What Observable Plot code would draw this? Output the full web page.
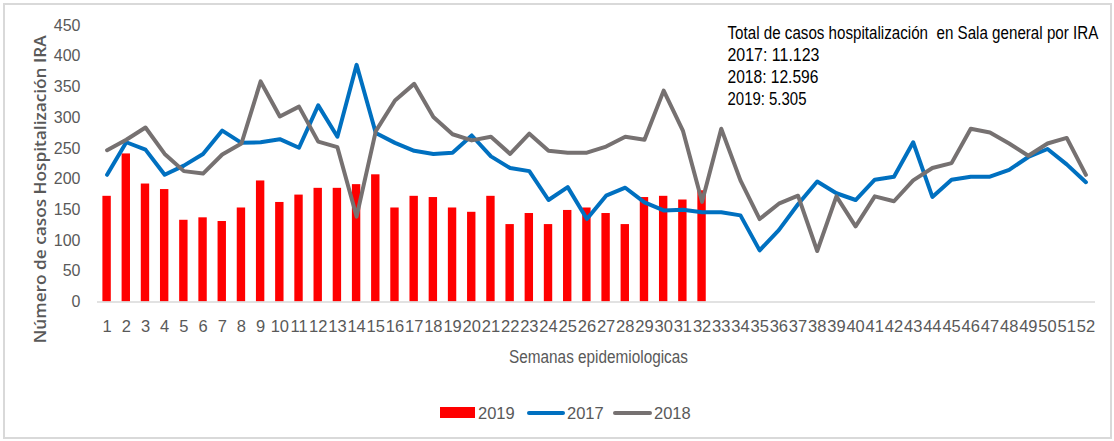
<!DOCTYPE html>
<html>
<head>
<meta charset="utf-8">
<script src="https://cdn.jsdelivr.net/npm/d3@7"></script>
<script src="https://cdn.jsdelivr.net/npm/@observablehq/plot@0.6"></script>
<style>
  html, body { margin: 0; padding: 0; background: #fff; }
  #wrap { position: relative; width: 1114px; height: 441px; overflow: hidden; }
  #frame { position: absolute; left: 3px; top: 3px; width: 1105px; height: 432px; border: 2px solid #d9d9d9; box-sizing: content-box; pointer-events: none; }
  #chart { position: absolute; left: 0; top: 0; }
  #legend { position: absolute; left: 0; top: 403px; width: 1114px; height: 20px; font-family: "Liberation Sans", Arial, sans-serif; font-size: 16.5px; color: #595959; }
  .item { position: absolute; top: 0; height: 20px; line-height: 20px; }
  .sw { position: absolute; }
</style>
</head>
<body>
<div id="wrap">
  <div id="chart"></div>
  <div id="legend"></div>
  <div id="frame"></div>
</div>
<script>
const weeks = [1,2,3,4,5,6,7,8,9,10,11,12,13,14,15,16,17,18,19,20,21,22,23,24,25,26,27,28,29,30,31,32,33,34,35,36,37,38,39,40,41,42,43,44,45,46,47,48,49,50,51,52];

const values2019 = [172,241,192,183,133,137,131,153,197,162,174,185,185,191,207,153,172,170,153,146,172,126,144,126,149,153,144,126,170,172,166,181];

const values2017 = [207,260,248,207,222,241,279,259,260,265,251,320,269,386,275,259,246,241,243,271,237,218,213,166,187,135,173,186,162,149,150,146,146,141,84,117,159,196,177,166,199,204,260,171,199,204,204,215,236,249,224,195];

const values2018 = [247,264,284,241,213,209,240,258,359,302,318,261,252,139,278,328,355,301,273,263,269,241,274,246,243,243,253,269,264,344,279,163,282,198,135,160,173,83,172,123,172,164,198,218,226,282,276,258,238,258,267,207];

const seriesNames = ["2019", "2017", "2018"];
const seriesColors = ["#ff0000", "#0070c0", "#767171"];

const yTicks = [0,50,100,150,200,250,300,350,400,450];
const xTitle = "Semanas epidemiologicas";
const yTitle = "Número de casos Hospitalización IRA";
const noteLines = [
  "Total de casos hospitalización  en Sala general por IRA",
  "2017: 11.123",
  "2018: 12.596",
  "2019: 5.305"
];

const bars = values2019.map((v, i) => ({week: weeks[i], value: v}));
const line2017 = values2017.map((v, i) => ({week: weeks[i], value: v}));
const line2018 = values2018.map((v, i) => ({week: weeks[i], value: v}));

const sans = "'Liberation Sans', Arial, sans-serif";
const noteLengths = [371, 92, 91, 79];

const chart = Plot.plot({
  width: 1114,
  height: 380,
  marginTop: 25,
  marginBottom: 78.5,
  marginLeft: 97,
  marginRight: 19,
  style: {background: "transparent", fontFamily: sans, color: "#595959", overflow: "visible"},
  x: {type: "linear", domain: [0.5, 52.5], axis: null},
  y: {domain: [0, 450], axis: null},
  marks: [
    Plot.rectY(bars, {x1: d => d.week - 0.5, x2: d => d.week + 0.5, y1: 0, y2: "value", fill: seriesColors[0], insetLeft: 5.4, insetRight: 5.4}),
    Plot.ruleY([0], {stroke: "#d9d9d9", strokeWidth: 1.5}),
    Plot.line(line2017, {x: "week", y: "value", stroke: seriesColors[1], strokeWidth: 4, strokeLinejoin: "round", strokeLinecap: "round"}),
    Plot.line(line2018, {x: "week", y: "value", stroke: seriesColors[2], strokeWidth: 4, strokeLinejoin: "round", strokeLinecap: "round"}),
    Plot.axisX({ticks: weeks, tickSize: 0, tickPadding: 18, fontSize: 16.5, tickFormat: d => String(d), label: null, fill: "#595959"}),
    Plot.axisY({ticks: yTicks, tickSize: 0, tickPadding: 17, fontSize: 16, label: null, fill: "#595959"}),
    Plot.text([xTitle], {frameAnchor: "bottom", dy: 55, dx: 2, lineAnchor: "middle", fontSize: 18.5, fill: "#595959", className: "xtitle"}),
    Plot.text([yTitle], {frameAnchor: "left", dx: -57, dy: 25.5, rotate: -90, textAnchor: "middle", lineAnchor: "middle", fontSize: 17, fill: "#595959", fontFamily: "'Open Sans', sans-serif", fontWeight: 600, className: "ytitle"}),
    ...noteLines.map((t, i) => Plot.text([t], {frameAnchor: "top-left", dx: 630, dy: 0.3 + i * 22, textAnchor: "start", lineAnchor: "top", fontSize: 18.5, fill: "#000", className: "note" + i}))
  ]
});
document.getElementById("chart").appendChild(chart);

// squeeze texts horizontally to the reference's narrow typefaces
function squeeze(sel, len) {
  const el = chart.querySelector(sel);
  if (!el) return;
  const w = el.getComputedTextLength();
  if (!w) return;
  const s = len / w;
  const x = +el.getAttribute("x") || 0;
  const prev = el.getAttribute("transform") || "";
  el.setAttribute("transform", `${prev} translate(${x},0) scale(${s},1) translate(${-x},0)`);
}
noteLengths.forEach((len, i) => squeeze(".note" + i + " text", len));
squeeze(".xtitle text", 179);
const yt = chart.querySelector(".ytitle text");
if (yt) { yt.setAttribute("textLength", 308); yt.setAttribute("lengthAdjust", "spacingAndGlyphs"); }

// legend
const legend = document.getElementById("legend");
const items = [
  {name: seriesNames[0], color: seriesColors[0], kind: "rect", swX: 440, swW: 35, txX: 478},
  {name: seriesNames[1], color: seriesColors[1], kind: "line", swX: 527, swW: 38, txX: 567},
  {name: seriesNames[2], color: seriesColors[2], kind: "line", swX: 613, swW: 39, txX: 654}
];
for (const it of items) {
  const sw = document.createElement("div");
  sw.className = "sw";
  sw.style.left = it.swX + "px";
  sw.style.width = it.swW + "px";
  sw.style.background = it.color;
  if (it.kind === "rect") { sw.style.top = "4px"; sw.style.height = "11px"; }
  else { sw.style.top = "8px"; sw.style.height = "4px"; sw.style.borderRadius = "2px"; }
  legend.appendChild(sw);
  const tx = document.createElement("div");
  tx.className = "item";
  tx.style.left = it.txX + "px";
  tx.textContent = it.name;
  legend.appendChild(tx);
}
</script>
</body>
</html>
